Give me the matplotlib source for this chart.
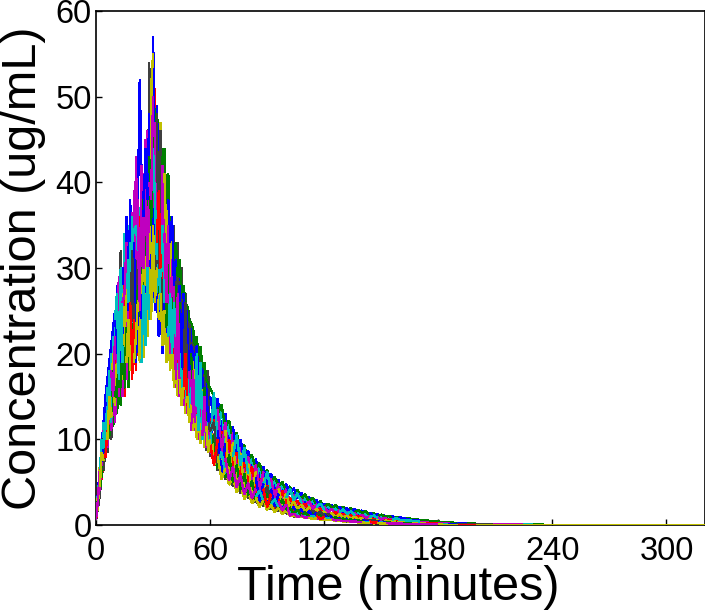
import matplotlib
matplotlib.use("Agg")
import matplotlib.pyplot as plt

plt.rcParams['font.family'] = ['Liberation Sans', 'DejaVu Sans']

early_minutes = list(range(0, 61))
mid_minutes = list(range(62, 101, 2))
late_minutes = list(range(102, 161, 2)) + list(range(165, 201, 5))
tail_minutes = [240, 280, 320]
times = early_minutes + mid_minutes + late_minutes + tail_minutes

tail_values = [0.02, 0.005, 0.0]

blue_1 = [1,3.8,6.5,9.5,12,15,17,19,21,23,25, 20,24,19,23,21,26,20,28,24,31, 34,37,52,40,36,44,38,48,42,57, 44,49,40,44,37,41,34,38,33,36, 28,31,27,30,25,27,22,25,21,23, 17,20,16,19,15,18,15,17,13,15,
    12.5,14.8,11,13,9.8,11.5,8.6,10,7.4,8.7,6.4,7.7,5.6,6.8,4.8,6,4.3,5.3,3.8,4.8,
    3.6,4.3,3.1,3.8,2.7,3.3,2.4,2.9,2.2,2.5,1.9,2.3,1.7,2.15,1.5,2,1.4,1.85,1.25,1.7,1.1,1.45,1,1.25,.9,1.1,.8,1,.7,.9, .62,.5,.4,.32,.25,.2,.15,.1]
green_1 = [.8,2.5,4,6,7,8,10,10.5,12,11.5,14, 13,16,14,18,16,20,17,22,18,25, 20,28,22,30,25,33,27,36,30,39, 44,49,42,46,40,44,37,41,32,35, 31,33,29,31,27,28,26,25.5,24,23.6, 23,21,22,19,20.8,18,19,17,16.5,16,
    15,13,14,11.5,12.2,10,10.8,8.8,9.3,7.6,8.2,6.6,7.2,5.8,6.4,5,5.6,4.6,5,4,
    4.5,3.4,4.1,3,3.6,2.7,3.2,2.4,2.8,2.1,2.5,2,2.3,1.9,2.1,1.7,1.95,1.5,1.75,1.4,1.6,1.2,1.35,1.05,1.2,.95,1.05,.8,.95,.75, .75,.6,.5,.4,.3,.25,.2,.15]
red_1 = [.7,3,5,7,10,11,13,14,17,16,20, 22,20,25,23,28,26,30,28,33,30, 33,31,36,34,38,35,42,39,46,40, 51,38,35,33,30,31,28,29,26,27, 20,23,19,21,18,20,17,19,16,18, 14,17,13,16,13,15,12,14,11,12,
    13,8.5,11.5,7.5,10,6.5,9,5.8,7.8,5,6.8,4.4,6,3.7,5.2,3.3,4.6,2.9,4,2.6,
    3.2,2.3,2.8,2.1,2.5,1.8,2.2,1.6,1.9,1.4,1.7,1.25,1.5,1.1,1.35,1,1.2,.85,1.05,.75,.9,.68,.8,.6,.72,.52,.62,.46,.55,.42, .35,.27,.22,.16,.12,.09,.07,.05]
cyan_1 = [.9,2.2,6,5.5,12,8,16,10.5,20,12,24, 27,17,30,19,34,18,35,20,36,21, 24,22,26,19,28,21,30,24,32,26, 29,27,31,25,30,23,29,22,27,20, 26,22,29,19,27,17,24,15,22,13, 21,12,20,11,19,10,18,10,17,9,
    15.5,10,14,9,12,8,10.5,7,9,6,8,5.2,7,4.5,6.2,4,5.4,3.6,4.8,3.2,
    4.2,2.9,3.7,2.6,3.2,2.3,2.8,2.1,2.5,1.8,2.2,1.7,1.9,1.5,1.8,1.3,1.6,1.2,1.5,1.05,1.3,.95,1.1,.85,1,.75,.9,.65,.8,.58, .52,.42,.33,.25,.2,.15,.11,.08]
magenta_1 = [.6,3.5,4,9,7,13,9,15,11,17,12, 18,15,22,15,24,17,28,19,31,20, 43,30,37,33,41,35,46,34,48,36, 47,36,43,30,42,28,35,26,32,24, 19,16,20,15,23,14,21,13,19,12, 14,11,13,10,12,10,12,9,11,8.5,
    10,13.5,8.5,12,7.5,10.8,6.5,9.2,5.6,8,4.8,7,4.2,6.2,3.6,5.4,3.2,4.8,2.9,4.2,
    2.7,3.5,2.4,3,2.1,2.8,1.9,2.4,1.7,2.1,1.5,1.9,1.35,1.7,1.2,1.55,1.05,1.4,.95,1.2,.85,1.05,.72,.95,.65,.85,.58,.72,.5,.65, .42,.33,.27,.2,.16,.11,.09,.06]
yellow_1 = [1,2,7,8,8,14,12,17,15,20,18, 16,25,17,27,20,29,22,25,27,23, 26,24,29,27,31,28,33,31,51,55, 35,38,33,47,32,41,33,38,29,34, 23,25,21,24,20,22,18,21,17,19, 19,15,18,15,17,14,16,13,14,12,
    8,12.5,6.8,11,6,9.6,5.2,8.4,4.4,7.2,3.8,6.2,3.4,5.4,3,4.8,2.7,4.2,2.4,3.7,
    2,2.8,1.8,2.4,1.6,2.1,1.4,1.85,1.25,1.6,1.1,1.4,.95,1.25,.85,1.1,.75,.95,.65,.85,.56,.72,.5,.62,.44,.56,.38,.48,.34,.42, .23,.18,.14,.1,.08,.06,.04,.03]
grey_1 = [.5,2,3.5,6,6.5,9,8.5,12,10,14,13, 26,22,32,25,30,21,34,24,32,22, 23,20,24,21,22,25,27,54,33,46, 32,48,30,46,26,37,24,34,22,30, 33,24,30,18,28,17,26,16,23,15, 12,15,11,14,10,13,10,12,9,11,
    12,7.2,10.5,6.5,9,5.5,8,4.8,7,4.2,6,3.6,5.2,3.2,4.5,2.8,4,2.5,3.5,2.2,
    2.6,1.7,2.3,1.5,2,1.35,1.8,1.2,1.55,1.05,1.35,.95,1.2,.82,1.05,.72,.92,.62,.8,.55,.68,.48,.6,.42,.52,.38,.45,.33,.4,.28, .28,.22,.17,.13,.1,.07,.05,.04]
blue_2 = [.7,3.2,5,8,9,11,14,16,14,19,17, 28,18,24,30,22,36,25,38,21,33, 19,25,20,27,22,29,24,32,28,37, 25,27,22,25,20,28,21,30,24,28, 21,26,19,28,18,26,20,23,18,21, 20,18,21,16,19,17,15,16,12,13,
    7.2,11,6,9.5,5.2,8.5,4.6,7.4,3.8,6.4,3.2,5.5,2.8,4.8,2.4,4.2,2.2,3.6,2,3.2,
    1.4,2.2,1.2,1.9,1.05,1.65,.92,1.4,.82,1.25,.72,1.08,.64,.95,.56,.82,.5,.7,.43,.6,.38,.52,.33,.45,.3,.38,.26,.33,.22,.28, .19,.15,.12,.08,.07,.05,.03,.02]
green_2 = [.8,3,5.5,9,10,12,11,16,13,18,15, 15,20,16,21,17,23,16,27,20,29, 30,35,31,38,34,41,37,43,35,46, 36,39,27,34,24,32,23,31,22,29, 24,28,22,26,20,24,19,23,18,20, 16,13,17,12,18,11,16,10,15,9,
    10.5,6.5,9.5,5.5,8.2,5,7,4.2,6,3.5,5.2,3,4.5,2.6,3.8,2.3,3.3,2.1,3,1.8,
    2,1.3,1.75,1.1,1.5,1,1.3,.88,1.1,.78,1,.68,.88,.6,.76,.52,.65,.45,.56,.38,.48,.33,.42,.28,.36,.25,.31,.22,.27,.19, .16,.12,.1,.07,.05,.04,.03,.02]
red_2 = [.6,2.4,4.5,5.5,8,8,11,11,15,14,18, 14,17,15,20,15,23,19,26,17,24, 18,27,23,31,29,26,32,27,34,30, 42,33,39,30,36,24,31,21,28,19, 25,18,24,16,22,15,20,14,19,14, 21,13,19,12,18,11,17,10,16,9.5,
    7,10,5.5,8.8,4.9,7.5,4.1,6.5,3.3,5.6,2.8,4.8,2.4,4.2,2.1,3.6,1.9,3.1,1.6,2.8,
    1.15,1.6,1.05,1.4,.95,1.2,.8,1.05,.72,.92,.65,.8,.58,.7,.5,.6,.43,.52,.37,.45,.32,.39,.28,.33,.24,.28,.21,.25,.18,.22, .14,.1,.08,.06,.04,.03,.02,.015]
cyan_2 = [.9,3.6,6,10,9,15,11,18,12,22,16, 24,25,21,28,24,31,26,33,29,34, 35,32,37,36,40,38,44,42,47,44, 38,31,37,29,35,26,32,24,30,21, 17,21,16,20,15,18,14,17,13,16, 11,15,10.5,14,10,13,9.5,12,9,10,
    9.5,7.4,8.5,6,7.2,5.2,6.2,4.5,5.4,3.8,4.6,3.3,4,2.8,3.4,2.4,3,2.1,2.6,1.9,
    1.6,1.05,1.35,.98,1.2,.88,1.05,.78,.9,.7,.78,.62,.7,.55,.6,.46,.52,.4,.45,.34,.38,.3,.32,.26,.28,.23,.24,.2,.21,.17, .12,.085,.07,.05,.035,.03,.02,.015]
magenta_2 = [.7,2.8,6.5,6,11,10,15,13,18,15,22, 19,29,24,26,27,33,23,37,25,39, 27,38,25,42,30,45,28,40,38,50, 33,44,28,38,25,34,26,35,20,31, 30,17,27,15,24,14,23,13,21,11, 18,12,17,11,16,10.5,15,9,14,9,
    7.5,9,6,7.8,5.2,6.8,4.4,5.8,3.6,4.9,3.1,4.2,2.7,3.7,2.3,3.2,2,2.7,1.7,2.4,
    1.1,1.3,.95,1.1,.85,.95,.75,.85,.68,.75,.6,.66,.54,.58,.46,.5,.4,.42,.34,.36,.29,.32,.25,.27,.22,.23,.19,.2,.16,.17, .1,.07,.06,.045,.03,.025,.015,.012]
grey_2 = [.8,2.6,5,7,9.5,10,14,12,16,13,19, 17,23,18,27,20,28,21,30,26,35, 21,33,27,29,34,30,36,33,41,34, 28,35,26,31,23,29,20,27,19,25, 35,20,33,17,30,15,27,14,25,12, 23,11,22,10,20,10,19,8.7,18,8,
    8.4,6.4,7.2,5.3,6.2,4.5,5.2,3.7,4.4,3.1,3.8,2.6,3.2,2.2,2.8,1.8,2.4,1.6,2.1,1.4,
    1.25,1,1.1,.9,.95,.8,.85,.7,.75,.62,.66,.55,.56,.48,.5,.42,.42,.36,.36,.3,.32,.26,.26,.22,.22,.18,.19,.16,.16,.14, .09,.065,.055,.042,.03,.02,.015,.01]
yellow_2 = [1,3.4,4.5,8.5,7.5,12,10,15,12.5,16,14, 21,18,27,17,22,19,24,18,29,19, 22,26,19,24,19.5,27,22,30,24,35, 26,30,24,27,21,25,19,23,18,22, 16,19,15,17,14,16,13,15,12,14, 11,13.5,10,13,9.5,12,9,11.5,8.5,10,
    7,8,5.3,6.6,4.7,5.5,3.8,4.7,3,3.9,2.5,3.2,2.1,2.8,1.75,2.4,1.5,2,1.3,1.7,
    1.1,1.1,.95,.95,.85,.85,.72,.75,.64,.65,.56,.6,.48,.52,.4,.46,.33,.4,.27,.32,.22,.27,.19,.23,.16,.2,.14,.17,.11,.14, .08,.06,.05,.04,.03,.02,.02,.01]

BLUE, GREEN, RED, CYAN, MAGENTA, YELLOW, GREY = '#0000ff', '#007f00', '#ff0000', '#00bfbf', '#bf00bf', '#bfbf00', '#3f3f3f'
series = [(blue_1, BLUE), (green_1, GREEN), (red_1, RED), (cyan_1, CYAN), (magenta_1, MAGENTA),
          (yellow_1, YELLOW), (grey_1, GREY), (blue_2, BLUE), (green_2, GREEN), (red_2, RED),
          (cyan_2, CYAN), (magenta_2, MAGENTA), (grey_2, GREY), (yellow_2, YELLOW)]

x_ticks = [0, 60, 120, 180, 240, 300]
y_ticks = [0, 10, 20, 30, 40, 50, 60]

fig = plt.figure(figsize=(7.05, 6.13), dpi=100, facecolor='white')
ax = fig.add_axes([96 / 705, (613 - 525) / 613, (704.5 - 96) / 705, (525 - 11) / 613])

# The reference's traces interleave, so no single one stays on top: the
# stacking order of each trace changes every few samples along its length.
samples_per_piece = 2
n_series = len(series)
n_points = len(times)
for i, (values, color) in enumerate(series):
    full = values + tail_values
    for piece, start in enumerate(range(0, n_points - 1, samples_per_piece)):
        stop = min(start + samples_per_piece + 1, n_points)
        layer = (i * 5 + piece * 3 + piece * piece) % n_series
        if times[start] >= 200:
            layer = i
        ax.plot(times[start:stop], full[start:stop], color=color, lw=1.0, antialiased=False,
                solid_joinstyle='miter', solid_capstyle='butt', zorder=2 + layer / n_series)

ax.set_xlim(0, 320)
ax.set_ylim(0, 60)
ax.set_xticks(x_ticks)
ax.set_yticks(y_ticks)
ax.tick_params(direction='in', length=4.5, width=1, labelsize=23.5, pad=3, top=False, right=False)
ax.tick_params(axis='x', pad=8)
for s in ax.spines.values():
    s.set_linewidth(1.2)
    s.set_zorder(1)

fig.text(398 / 705, 1 - 587 / 613, 'Time (minutes)', fontsize=35, ha='center', va='center')
fig.text(24 / 705, 1 - 268 / 613, 'Concentration (ug/mL)', fontsize=35, rotation=90, ha='center', va='center')

fig.savefig('out.png', dpi=100)
